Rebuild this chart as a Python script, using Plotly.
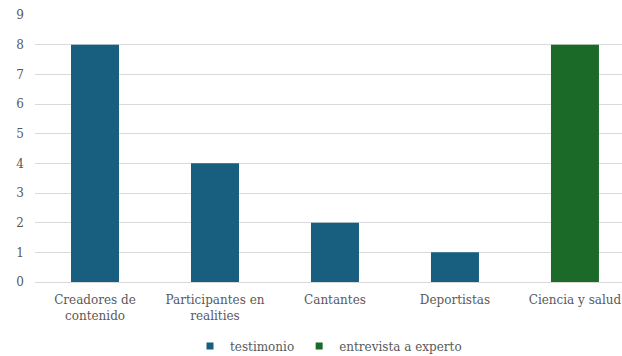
import plotly.graph_objects as go

categories = ["Creadores de<br>contenido", "Participantes en<br>realities", "Cantantes", "Deportistas", "Ciencia y salud"]
testimonio = [8, 4, 2, 1, None]
entrevista_experto = [None, None, None, None, 8]
y_ticks = list(range(0, 10))

FONT = "DejaVu Serif"
SIZE = 12
GRAY = "#595959"
BLUE = "#175e7f"
GREEN = "#1b6a27"

fig = go.Figure()
fig.add_trace(go.Bar(
    x=categories, y=testimonio, name="testimonio", showlegend=False,
    marker=dict(color=BLUE, line=dict(width=0)), width=0.4,
))
fig.add_trace(go.Bar(
    x=categories, y=entrevista_experto, name="entrevista a experto", showlegend=False,
    marker=dict(color=GREEN, line=dict(width=0)), width=0.4,
))
# small square legend keys
for name, color in [("testimonio", BLUE), ("entrevista a experto", GREEN)]:
    fig.add_trace(go.Scatter(
        x=[None], y=[None], mode="markers", name=name,
        marker=dict(symbol="square", size=7, color=color),
    ))

fig.update_layout(
    template="none",
    width=622, height=356,
    margin=dict(l=35, r=0, t=15, b=74, autoexpand=False),
    barmode="overlay",
    plot_bgcolor="white", paper_bgcolor="white",
    font=dict(family=FONT, size=SIZE, color=GRAY),
    showlegend=True,
    legend=dict(orientation="h", x=0.5, xanchor="center", yref="container",
                y=0.028, yanchor="middle",
                font=dict(family=FONT, size=SIZE, color=GRAY), itemwidth=30,
                tracegroupgap=0, traceorder="normal"),
    xaxis=dict(range=[-0.5, 4.392], showgrid=False, showline=False, ticks="",
               tickfont=dict(family=FONT, size=SIZE, color=GRAY), fixedrange=True,
               ticklabelstandoff=9),
    yaxis=dict(range=[0, 9], tickvals=y_ticks, showgrid=True, gridcolor="#d9d9d9",
               gridwidth=1, zeroline=True, zerolinecolor="#d9d9d9", zerolinewidth=1,
               showline=False, ticks="", ticklabelstandoff=10,
               tickfont=dict(family=FONT, size=SIZE, color=GRAY)),
)

fig.write_html("out.html")
